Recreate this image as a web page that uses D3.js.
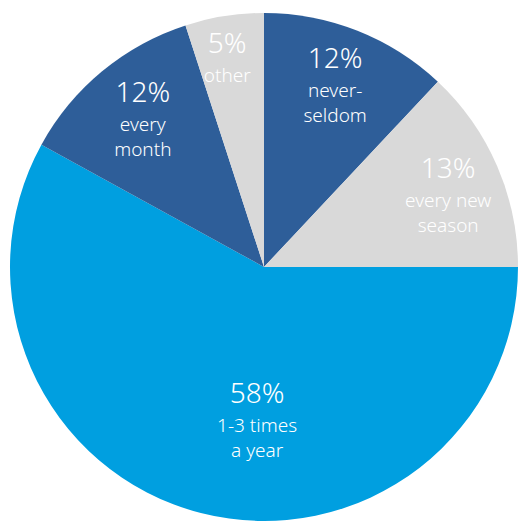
<!DOCTYPE html>
<html>
<head>
<meta charset="utf-8">
<script src="https://cdn.jsdelivr.net/npm/d3@7"></script>
<style>
  body { margin: 0; background: #fff; }
  svg text { font-family: "Noto Sans", sans-serif; font-weight: 300; fill: #fff; }
</style>
</head>
<body>
<div id="chart"></div>
<script>
// data, clockwise from 12 o'clock
var categories = ["never-seldom", "every new season", "1-3 times a year", "every month", "other"];
var shares = [12, 13, 58, 12, 5];
var labelLines = [["never-", "seldom"], ["every new", "season"], ["1-3 times", "a year"], ["every", "month"], ["other"]];
var colors = ["#2E5E99", "#D9D9D9", "#009FE0", "#2E5E99", "#D9D9D9"];

var width = 519, height = 521;
var cx = 264, cy = 267, radius = 254;

// label placement: radius fraction and small nudges (px) per slice
var labelR = [0.75, 0.76, 0.6, 0.73, 0.8];
var nudge = [[1, 0], [7, 10], [31, 10], [-3, 0], [-5, 9]];

var svg = d3.select("#chart").append("svg")
    .attr("width", width)
    .attr("height", height);

var g = svg.append("g").attr("transform", "translate(" + cx + "," + cy + ")");

var pie = d3.pie().sort(null).value((d) => d);
var arcs = pie(shares);

var arc = d3.arc().innerRadius(0).outerRadius(radius);

g.selectAll(".slice")
    .data(arcs)
    .enter().append("path")
    .attr("class", "slice")
    .attr("d", arc)
    .style("fill", (d, i) => colors[i]);

var labels = g.selectAll(".lbl")
    .data(arcs)
    .enter().append("text")
    .attr("class", "lbl")
    .attr("text-anchor", "middle")
    .attr("transform", function (d, i) {
        var a = (d.startAngle + d.endAngle) / 2;
        var r = radius * labelR[i];
        var x = Math.sin(a) * r + nudge[i][0];
        var y = -Math.cos(a) * r + nudge[i][1];
        return "translate(" + x + "," + y + ")";
    });

labels.append("tspan")
    .attr("x", 0)
    .attr("y", -22)
    .style("font-size", "28px")
    .text((d, i) => shares[i] + "%");

labels.each(function (d, i) {
    var t = d3.select(this);
    labelLines[i].forEach(function (line, k) {
        t.append("tspan")
            .attr("x", 0)
            .attr("y", 7 + k * 25)
            .style("font-size", "19px")
            .text(line);
    });
});
</script>
</body>
</html>
